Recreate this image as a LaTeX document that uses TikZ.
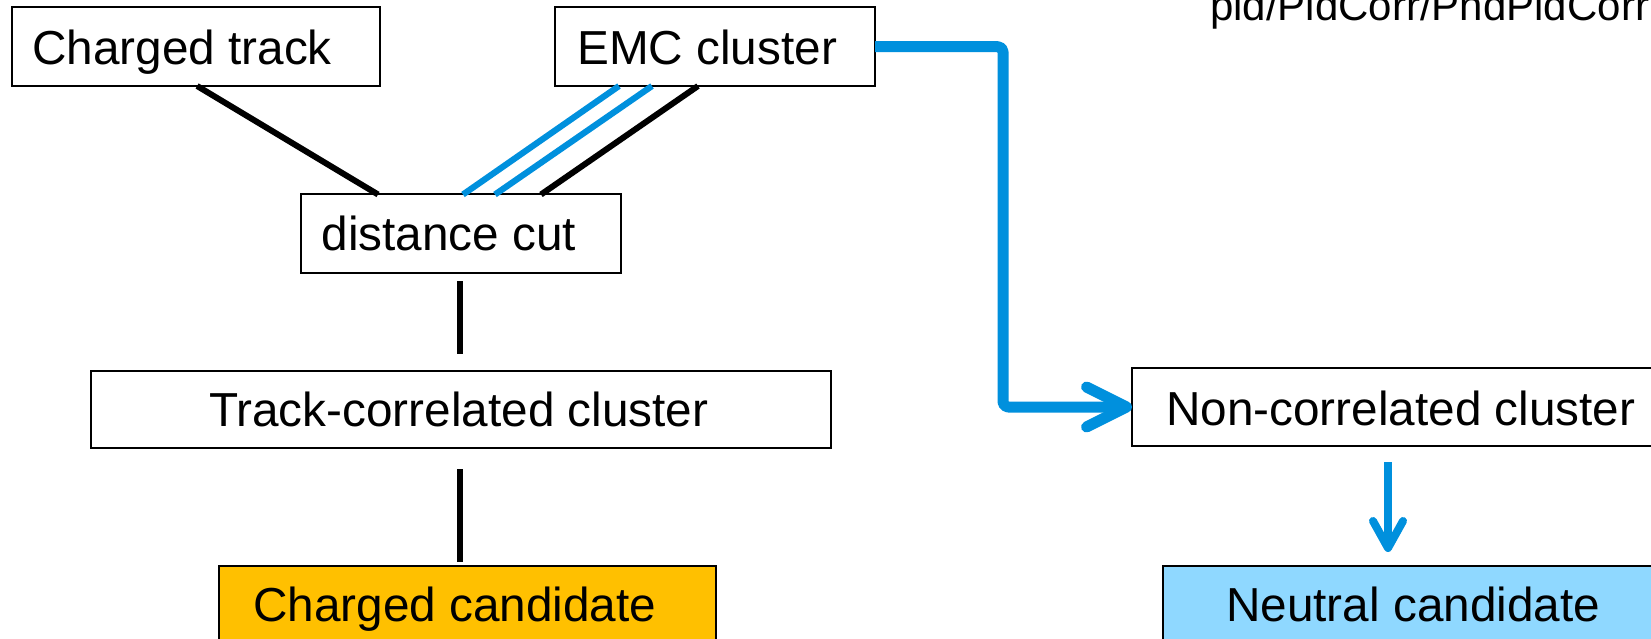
\documentclass[tikz,border=0pt]{standalone}
\usepackage{fontspec}
\setmainfont{Liberation Sans}
\usetikzlibrary{arrows.meta}
\definecolor{flowblue}{RGB}{0,144,221}
\definecolor{chgfill}{RGB}{255,192,0}
\definecolor{neufill}{RGB}{143,216,255}
\begin{document}
\begin{tikzpicture}[x=1pt,y=-1pt,
  box/.style={draw=black, line width=2pt, rectangle, anchor=north west,
    outer sep=0pt, inner sep=0pt},
  lbl/.style={anchor=base west, inner sep=0pt,
    font=\fontsize{47.7}{57}\selectfont},
  link/.style={line width=6pt, draw=black},
  bluelink/.style={line width=6.2pt, draw=flowblue},
  route/.style={line width=11pt, draw=flowblue, rounded corners=5pt,
    line join=round, -{Straight Barb[length=40pt, width=40pt, round]}},
  drop/.style={line width=8pt, draw=flowblue,
    -{Straight Barb[length=27pt, width=30pt, round]}},
]
\useasboundingbox (0,0) rectangle (1651,639);
\clip (0,0) rectangle (1651,639);
\fill[white] (0,0) rectangle (1651,639);

% source file reference
\node[anchor=base west, inner sep=0pt, font=\fontsize{42}{50}\selectfont]
  (src) at (1210,21) {pid/PidCorr/PndPidCorr};

% boxes
\node[box, minimum width=368.4pt, minimum height=78.5pt] (ct) at (11.6,7.5) {};
\node[box, minimum width=320pt, minimum height=78.5pt] (emc) at (555,7.5) {};
\node[box, minimum width=319.5pt, minimum height=78pt] (dc) at (301,194.5) {};
\node[box, minimum width=739.5pt, minimum height=76.5pt] (tc) at (91,371) {};
\node[box, fill=chgfill, minimum width=497pt, minimum height=100pt] (cc) at (219,566) {};
\node[box, minimum width=600pt, minimum height=78pt] (nc) at (1132,368) {};
\node[box, fill=neufill, minimum width=600pt, minimum height=100pt] (ntr) at (1163,566) {};

% labels
\node[lbl] (ct-t) at (32,65) {Charged track};
\node[lbl] (emc-t) at (577,65) {EMC cluster};
\node[lbl] (dc-t) at (321.5,250.7) {distance cut};
\node[lbl] (tc-t) at (209,426.7) {Track-correlated cluster};
\node[lbl] (cc-t) at (253,621.7) {Charged candidate};
\node[lbl] (nc-t) at (1166,425) {Non-correlated cluster};
\node[lbl] (ntr-t) at (1226,621.7) {Neutral candidate};

% inputs into the distance cut
\draw[link] ([xshift=185.5pt]ct.south west) -- ([xshift=77pt]dc.north west);
\draw[bluelink] ([xshift=64pt]emc.south west) -- ([xshift=162pt]dc.north west);
\draw[bluelink] ([xshift=97pt]emc.south west) -- ([xshift=194pt]dc.north west);
\draw[link] ([xshift=143pt]emc.south west) -- ([xshift=240pt]dc.north west);

% charged chain
\draw[link, shorten <=8.5pt, shorten >=17pt]
  ([xshift=159pt]dc.south west) -- ([xshift=369pt]tc.north west);
\draw[link, shorten <=21.5pt, shorten >=4pt]
  ([xshift=369pt]tc.south west) -- ([xshift=241pt]cc.north west);

% neutral chain
\draw[route] (emc.east) -- ++(128,0) |- (nc.west);
\draw[drop, shorten <=16pt, shorten >=14pt]
  ([xshift=256pt]nc.south west) -- ([xshift=225pt]ntr.north west);
\end{tikzpicture}
\end{document}
